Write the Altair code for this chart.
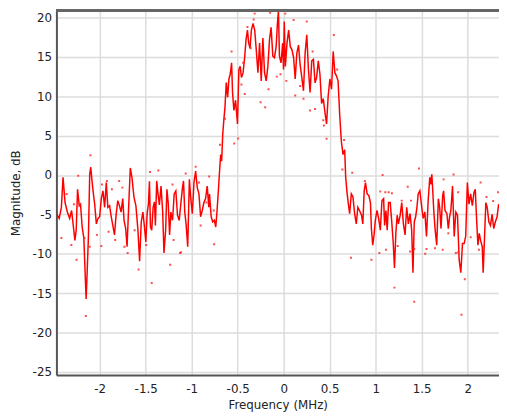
import altair as alt
import pandas as pd

# ---- line data (frequency in MHz, magnitude in dB) ----
line_freq = [
    -2.465, -2.44, -2.416, -2.398, -2.376, -2.351, -2.326, -2.305, -2.287, -2.269,
    -2.255, -2.24, -2.222, -2.208, -2.19, -2.172, -2.158, -2.147, -2.136, -2.122,
    -2.108, -2.097, -2.083, -2.068, -2.054, -2.036, -2.018, -2.0, -1.982, -1.964,
    -1.946, -1.928, -1.911, -1.892, -1.874, -1.857, -1.839, -1.82, -1.803, -1.785,
    -1.767, -1.749, -1.735, -1.717, -1.702, -1.685, -1.667, -1.649, -1.627, -1.606,
    -1.584, -1.566, -1.548, -1.53, -1.513, -1.498, -1.484, -1.47, -1.459, -1.448,
    -1.434, -1.419, -1.405, -1.394, -1.38, -1.366, -1.351, -1.333, -1.315, -1.301,
    -1.283, -1.269, -1.254, -1.24, -1.226, -1.208, -1.19, -1.172, -1.154, -1.136,
    -1.118, -1.1, -1.089, -1.075, -1.061, -1.043, -1.025, -1.011, -0.993, -0.975,
    -0.957, -0.939, -0.921, -0.903, -0.885, -0.867, -0.849, -0.831, -0.814, -0.806,
    -0.788, -0.771, -0.753, -0.738, -0.724, -0.71, -0.699, -0.685, -0.674, -0.663,
    -0.649, -0.638, -0.624, -0.609, -0.595, -0.581, -0.566, -0.556, -0.541, -0.523,
    -0.502, -0.487, -0.473, -0.459, -0.441, -0.423, -0.409, -0.394, -0.38, -0.366,
    -0.351, -0.333, -0.315, -0.298, -0.28, -0.262, -0.244, -0.226, -0.208, -0.19,
    -0.172, -0.154, -0.137, -0.118, -0.1, -0.082, -0.068, -0.057, -0.046, -0.029,
    -0.011, -0.002, 0.006, 0.018, 0.036, 0.054, 0.072, 0.09, 0.108, 0.125,
    0.143, 0.161, 0.179, 0.197, 0.215, 0.233, 0.251, 0.269, 0.287, 0.305,
    0.323, 0.341, 0.358, 0.376, 0.394, 0.412, 0.43, 0.448, 0.466, 0.484,
    0.502, 0.52, 0.538, 0.556, 0.573, 0.591, 0.609, 0.627, 0.645, 0.663,
    0.674, 0.688, 0.703, 0.717, 0.735, 0.753, 0.771, 0.789, 0.806, 0.824,
    0.846, 0.86, 0.875, 0.889, 0.907, 0.925, 0.943, 0.953, 0.968, 0.982,
    0.996, 1.014, 1.032, 1.05, 1.068, 1.086, 1.097, 1.111, 1.125, 1.14,
    1.158, 1.176, 1.19, 1.204, 1.219, 1.233, 1.247, 1.266, 1.283, 1.301,
    1.319, 1.337, 1.355, 1.373, 1.391, 1.405, 1.419, 1.434, 1.448, 1.462,
    1.48, 1.498, 1.516, 1.534, 1.552, 1.57, 1.588, 1.598, 1.61, 1.62,
    1.631, 1.645, 1.663, 1.681, 1.695, 1.71, 1.728, 1.738, 1.753, 1.774,
    1.789, 1.803, 1.817, 1.835, 1.853, 1.871, 1.889, 1.907, 1.925, 1.943,
    1.961, 1.978, 1.996, 2.014, 2.032, 2.05, 2.068, 2.082, 2.097, 2.111,
    2.125, 2.14, 2.158, 2.168, 2.183, 2.197, 2.212, 2.23, 2.247, 2.265,
    2.283, 2.3, 2.319, 2.336,
]
line_mag = [
    -5.0, -5.5, -4.1, -0.3, -3.5, -4.7, -5.5, -4.5, -6.4, -8.3,
    -7.0, -1.8, -3.9, -3.7, -6.6, -8.0, -12.4, -15.75, -12.4, -7.8,
    0.1, 1.0, -0.75, -2.4, -3.7, -6.2, -5.5, -5.3, -3.0, -2.0,
    -4.1, -0.96, -4.1, -3.9, -5.3, -6.4, -7.6, -4.9, -3.25, -3.9,
    -4.7, -3.0, -5.75, -6.8, -9.1, -4.1, 0.9, -0.3, -2.8, -3.9,
    -7.0, -10.96, -5.96, -4.7, -6.6, -8.5, -4.9, -3.7, -0.8, -6.6,
    -7.0, -4.1, -3.4, -6.4, -0.75, -2.4, -3.8, -1.4, -4.7, -9.9,
    -7.0, -1.8, -3.7, -7.6, -4.7, -5.75, -2.4, -2.0, -5.1, -5.75,
    -3.7, -1.6, -0.75, -4.7, -6.2, -9.1, -0.55, -2.8, -4.9, -0.96,
    0.5, -1.6, -2.4, -5.3, -4.5, -3.5, -3.0, -1.4, -4.1, -2.4,
    -5.3, -5.96, -5.75, -6.6, -4.5, -2.0, 0.1, 2.6, 1.75, 5.1,
    7.2, 8.6, 11.75, 9.9, 12.2, 12.8, 14.25, 10.5, 8.2, 9.5,
    6.5, 13.4, 13.8, 12.4, 13.0, 15.1, 17.2, 18.4, 16.75, 16.1,
    18.4, 19.25, 18.4, 15.9, 13.0, 16.75, 11.96, 17.4, 13.0, 11.96,
    13.8, 17.2, 18.75, 15.1, 14.9, 16.3, 19.25, 20.9, 15.1, 14.25,
    16.75, 13.4, 19.5, 13.8, 16.75, 18.4, 16.3, 15.9, 14.9, 12.2,
    15.5, 16.5, 14.0, 12.4, 10.7, 15.5, 17.8, 13.4, 10.5, 14.5,
    14.7, 11.7, 12.4, 14.5, 12.8, 9.1, 9.7, 8.0, 6.5, 10.1,
    12.2, 10.9, 15.7, 13.0, 12.6, 11.96, 7.6, 4.25, 2.6, 3.2,
    -0.3, -2.2, -3.7, -4.9, -2.4, -2.8, -4.9, -6.2, -4.1, -4.5,
    -5.1, -6.2, -2.0, -0.96, -2.4, -2.6, -3.5, -6.8, -8.9, -7.6,
    -5.75, -4.5, -5.5, -7.0, -3.25, -3.0, -6.4, -4.5, -7.0, -3.5,
    -3.5, -6.2, -8.5, -11.8, -7.4, -5.1, -6.2, -5.1, -3.5, -6.2,
    -7.6, -4.1, -6.2, -4.9, -7.0, -12.4, -5.96, -5.3, -4.1, -2.4,
    -2.0, -3.9, -5.5, -4.7, -7.8, -3.25, -0.3, -1.2, 0.08, -2.0,
    -4.5, -6.8, -8.9, -3.0, -4.1, -6.8, -2.6, -2.0, -4.5, -4.9,
    -6.8, -5.3, -4.5, -1.4, -7.8, -4.7, -5.1, -10.75, -12.4, -8.7,
    -8.7, -7.8, -0.96, -3.7, -2.4, -3.9, -2.2, -1.8, -5.75, -8.9,
    -7.4, -8.3, -9.1, -12.4, -7.8, -3.5, -4.1, -5.96, -6.4, -5.0,
    -6.8, -5.96, -5.3, -3.7,
]

# ---- scattered sample dots ----
dot_freq = [
    -2.1, -2.233, -2.416, -2.251, -2.308, -2.108, -2.029, -1.982, -1.921, -1.975,
    -1.867, -1.788, -1.753, -1.903, -1.831, -1.731, -2.358, -2.28, -2.215, -2.15,
    -2.165, -1.696, -1.362, -1.452, -1.208, -1.065, -0.957, -0.921, -1.62, -1.577,
    -1.495, -1.233, -1.434, -1.197, -1.126, -0.839, -0.903, -1.115, -0.756, -0.566,
    -0.441, -0.459, -0.423, -0.251, -0.201, -0.165, -0.495, -0.538, -0.638, -0.315,
    -0.394, -0.358, -0.075, -0.035, -0.76, -0.692, -0.81, -0.147, -0.326, 0.108,
    0.251, 0.029, 0.315, 0.179, 0.125, 0.215, 0.287, 0.341, 0.437, 0.545,
    0.466, 0.581, 0.656, 0.638, 0.745, 0.43, 0.018, 0.882, 1.075, 1.47,
    1.348, 1.104, 1.14, 1.176, 1.283, 1.384, 1.04, 0.953, 1.111, 1.24,
    1.373, 1.419, 1.552, 1.204, 1.419, 1.05, 1.846, 1.738, 1.896, 2.14,
    2.33, 2.204, 2.276, 1.789, 1.871, 1.968, 1.932, 1.645, 1.728, 2.032,
    2.122, 0.731, 1.538, 1.896,
]
dot_mag = [
    2.5, -0.1, -8.0, -10.75, -8.9, -9.1, -7.6, -9.0, -0.75, -1.2,
    -1.8, -0.75, -1.6, -7.2, -8.25, -9.1, -2.4, -3.7, -3.7, -17.9,
    -8.0, -9.9, 0.58, 0.375, -1.2, 0.2, 1.04, -0.96, -7.0, -12.0,
    -8.9, -11.4, -13.7, -8.25, -9.9, -3.5, -6.4, -9.8, -8.8, 15.7,
    14.25, 11.5, 10.3, 9.25, 8.6, 10.9, 4.65, 4.0, 7.15, 20.5,
    18.8, 16.1, 12.5, 12.8, -4.5, 3.85, -0.2, 20.6, 19.75, 19.7,
    19.5, 11.96, 15.7, 11.3, 10.1, 9.7, 8.2, 8.4, 6.3, 17.8,
    4.6, 13.4, 4.45, 0.7, 0.29, 6.95, 20.5, -0.75, 0.0, 0.83,
    -1.5, -2.2, -2.2, -2.3, -3.25, -3.25, -9.9, -10.75, -9.5, -9.0,
    -9.7, -9.4, -9.4, -14.3, -16.1, -2.1, 0.08, -0.55, -2.2, -0.96,
    -2.2, -2.8, -3.3, -7.4, -9.9, -13.25, -17.75, -9.3, -9.5, -7.9,
    -9.5, -10.5, -10.0, -9.8,
]

x_ticks = [-2, -1.5, -1, -0.5, 0, 0.5, 1, 1.5, 2]
y_ticks = [-25, -20, -15, -10, -5, 0, 5, 10, 15, 20]
x_domain = [-2.47, 2.34]
y_domain = [-25.4, 20.9]

line_df = pd.DataFrame({"freq": line_freq, "mag": line_mag})
dot_df = pd.DataFrame({"freq": dot_freq, "mag": dot_mag})

FONT = "DejaVu Sans"

x_enc = alt.X(
    "freq:Q",
    scale=alt.Scale(domain=x_domain, nice=False, zero=False),
    axis=alt.Axis(
        values=x_ticks,
        title="Frequency (MHz)",
        labelExpr="toString(datum.value)",
        ticks=False,
        labelPadding=9,
        titlePadding=5,
    ),
)
y_enc = alt.Y(
    "mag:Q",
    scale=alt.Scale(domain=y_domain, nice=False, zero=False),
    axis=alt.Axis(
        values=y_ticks,
        title="Magnitude, dB",
        labelExpr="toString(datum.value)",
        ticks=False,
        labelPadding=5,
        titlePadding=10,
    ),
)

line = alt.Chart(line_df).mark_line(
    color="#ff0000", strokeWidth=1.5, clip=True
).encode(x=x_enc, y=y_enc)

dots = alt.Chart(dot_df).mark_square(
    color="#ff2020", size=4, opacity=0.8, clip=True
).encode(x="freq:Q", y="mag:Q")

top_border = alt.Chart(line_df).mark_rule(
    color="#666666", strokeWidth=2
).encode(y=alt.value(0))

chart = (
    alt.layer(line, dots, top_border)
    .properties(
        width=448,
        height=369,
        autosize=alt.AutoSizeParams(type="none"),
        padding={"left": 49, "top": 0, "right": 0, "bottom": 42},
        background="white",
    )
    .configure_view(stroke="#d0d0d0", strokeWidth=1)
    .configure_axis(
        grid=True,
        gridColor="#dcdcdc",
        gridWidth=1.5,
        domainColor="#555555",
        domainWidth=2,
        labelFont=FONT,
        labelFontSize=12,
        labelColor="#222222",
        titleFont=FONT,
        titleFontSize=12,
        titleFontWeight="normal",
        titleColor="#222222",
    )
)

chart.save("out.html", embed_options={"renderer": "svg", "actions": False})
